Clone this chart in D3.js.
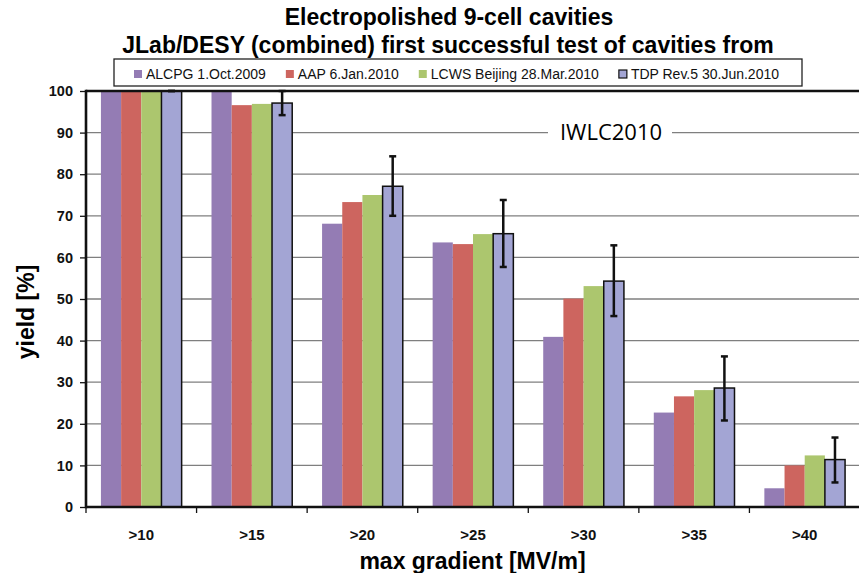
<!DOCTYPE html>
<html lang="en">
<head>
  <meta charset="UTF-8">
  <title>Electropolished 9-cell cavities</title>
  <style>
    * { margin: 0; box-sizing: border-box; }
    body { background: #fff; width: 859px; height: 573px; overflow: hidden; }
    svg { display: block; font-family: "Liberation Sans", Arial, sans-serif; }
    .title { font-weight: bold; font-size: 23px; }
    .axis-title { font-weight: bold; font-size: 23px; }
    .y-axis text { font-weight: bold; font-size: 14.5px; }
    .x-axis text { font-weight: bold; font-size: 15px; }
    .legend text { font-size: 14px; }
    .grid line { stroke: #7f7f7f; stroke-width: 1.3; }
  </style>
</head>
<body>
  <svg></svg>
  <script src="https://d3js.org/d3.v7.min.js"></script>
  <script>
    const categories = ['>10', '>15', '>20', '>25', '>30', '>35', '>40'];
    const seriesNames = ['ALCPG 1.Oct.2009', 'AAP 6.Jan.2010', 'LCWS Beijing 28.Mar.2010', 'TDP Rev.5 30.Jun.2010'];
    const alcpg = [100, 100, 68.1, 63.6, 40.9, 22.7, 4.5];
    const aap   = [100, 96.6, 73.3, 63.2, 50.1, 26.6, 10.0];
    const lcws  = [100, 96.9, 75.0, 65.6, 53.1, 28.1, 12.4];
    const tdp   = [100, 97.1, 77.1, 65.7, 54.3, 28.6, 11.4];
    const tdpErrLow  = [100, 94.2, 70.0, 57.7, 45.9, 20.8, 5.9];
    const tdpErrHigh = [100, 100, 84.3, 73.8, 62.9, 36.2, 16.7];
    const yTicks = [0, 10, 20, 30, 40, 50, 60, 70, 80, 90, 100];

    const colors = ['#947cb4', '#cd655f', '#acc66e', '#a3a5d4'];
    const series = [alcpg, aap, lcws, tdp];

    const width = 859, height = 573;
    const margin = {top: 91, right: -1, bottom: 66, left: 86};

    const svg = d3.select('svg')
      .attr('width', width)
      .attr('height', height);

    const x0 = d3.scaleBand()
      .domain(categories)
      .range([margin.left, width - margin.right]);

    const x1 = d3.scaleBand()
      .domain(d3.range(series.length))
      .range([0, x0.bandwidth()])
      .paddingOuter(0.74);

    const y = d3.scaleLinear()
      .domain([0, 100])
      .range([height - margin.bottom, margin.top]);

    // gridlines
    svg.append('g')
      .attr('class', 'grid')
      .selectAll('line')
      .data(yTicks.filter(d => d > 0 && d < 100))
      .join('line')
      .attr('x1', margin.left)
      .attr('x2', width - margin.right)
      .attr('y1', d => y(d))
      .attr('y2', d => y(d));

    // annotation over the 90 gridline
    const note = svg.append('g');
    note.append('rect')
      .attr('x', 548).attr('y', y(90) - 4)
      .attr('width', 124).attr('height', 8)
      .attr('fill', '#fff');
    note.append('text')
      .attr('x', 611).attr('y', 140)
      .attr('text-anchor', 'middle')
      .style('font-family', '"Open Sans", sans-serif')
      .style('font-size', '22px')
      .text('IWLC2010');

    // bars
    const groups = svg.append('g')
      .selectAll('g')
      .data(categories)
      .join('g')
      .attr('transform', d => 'translate(' + x0(d) + ',0)');

    groups.selectAll('rect')
      .data((d, i) => series.map((s, k) => ({k: k, value: s[i]})))
      .join('rect')
      .attr('x', d => x1(d.k))
      .attr('width', x1.bandwidth())
      .attr('y', d => y(d.value))
      .attr('height', d => y(0) - y(d.value))
      .attr('fill', d => colors[d.k])
      .attr('stroke', d => d.k === 3 ? '#111' : 'none')
      .attr('stroke-width', 1.5);

    // error bars on TDP series
    const err = svg.append('g')
      .attr('stroke', '#111')
      .attr('stroke-width', 2.5)
      .selectAll('g')
      .data(categories.map((c, i) => ({c: c, lo: tdpErrLow[i], hi: tdpErrHigh[i]})))
      .join('g')
      .attr('transform', d => 'translate(' + (x0(d.c) + x1(3) + x1.bandwidth() / 2) + ',0)');
    err.append('line').attr('y1', d => y(d.lo)).attr('y2', d => y(d.hi));
    err.append('line').attr('x1', -3.5).attr('x2', 3.5).attr('y1', d => y(d.lo)).attr('y2', d => y(d.lo));
    err.append('line').attr('x1', -3.5).attr('x2', 3.5).attr('y1', d => y(d.hi)).attr('y2', d => y(d.hi));

    // axes
    const yAxis = svg.append('g')
      .attr('class', 'y-axis')
      .attr('transform', 'translate(' + margin.left + ',0)')
      .call(d3.axisLeft(y).tickValues(yTicks).tickSize(6).tickPadding(7));
    yAxis.select('.domain').remove();
    yAxis.selectAll('.tick line').attr('stroke', '#111').attr('stroke-width', 1.3);
    yAxis.selectAll('text').attr('fill', '#111');

    const xAxis = svg.append('g')
      .attr('class', 'x-axis')
      .attr('transform', 'translate(0,' + y(0) + ')')
      .call(d3.axisBottom(x0).tickSize(0).tickPadding(22));
    xAxis.select('.domain').remove();
    xAxis.selectAll('text').attr('fill', '#111');

    // category separators
    svg.append('g')
      .selectAll('line')
      .data(categories)
      .join('line')
      .attr('x1', d => x0(d)).attr('x2', d => x0(d))
      .attr('y1', y(0)).attr('y2', y(0) + 6)
      .attr('stroke', '#111').attr('stroke-width', 1.3);

    // frame lines
    svg.append('line')
      .attr('x1', margin.left).attr('x2', width)
      .attr('y1', y(0)).attr('y2', y(0))
      .attr('stroke', '#111').attr('stroke-width', 2.6);
    svg.append('line')
      .attr('x1', margin.left).attr('x2', width)
      .attr('y1', y(100)).attr('y2', y(100))
      .attr('stroke', '#111').attr('stroke-width', 2.6);
    svg.append('line')
      .attr('x1', margin.left).attr('x2', margin.left)
      .attr('y1', y(100) - 1.3).attr('y2', y(0) + 1.3)
      .attr('stroke', '#111').attr('stroke-width', 2.6);

    // titles
    svg.append('text').attr('class', 'title')
      .attr('x', 449).attr('y', 25).attr('text-anchor', 'middle')
      .text('Electropolished 9-cell cavities');
    svg.append('text').attr('class', 'title')
      .attr('x', 448).attr('y', 53).attr('text-anchor', 'middle')
      .text('JLab/DESY (combined) first successful test of cavities from');

    svg.append('text').attr('class', 'axis-title')
      .attr('x', (margin.left + width) / 2).attr('y', 569)
      .attr('text-anchor', 'middle')
      .text('max gradient [MV/m]');

    svg.append('text').attr('class', 'axis-title')
      .attr('transform', 'translate(34,312) rotate(-90)')
      .attr('text-anchor', 'middle')
      .text('yield [%]');

    // legend
    const legend = svg.append('g').attr('class', 'legend');
    legend.append('rect')
      .attr('x', 114).attr('y', 59)
      .attr('width', 688).attr('height', 27)
      .attr('fill', '#fff')
      .attr('stroke', '#222').attr('stroke-width', 1.3);

    let lx = 134;
    seriesNames.forEach((name, k) => {
      legend.append('rect')
        .attr('x', lx).attr('y', 70)
        .attr('width', 8).attr('height', 8)
        .attr('fill', colors[k])
        .attr('stroke', k === 3 ? '#111' : 'none')
        .attr('stroke-width', 1.2);
      const t = legend.append('text')
        .attr('x', lx + 12).attr('y', 79)
        .attr('fill', '#111')
        .text(name);
      lx += 12 + t.node().getComputedTextLength() + 20;
    });
  </script>
</body>
</html>
